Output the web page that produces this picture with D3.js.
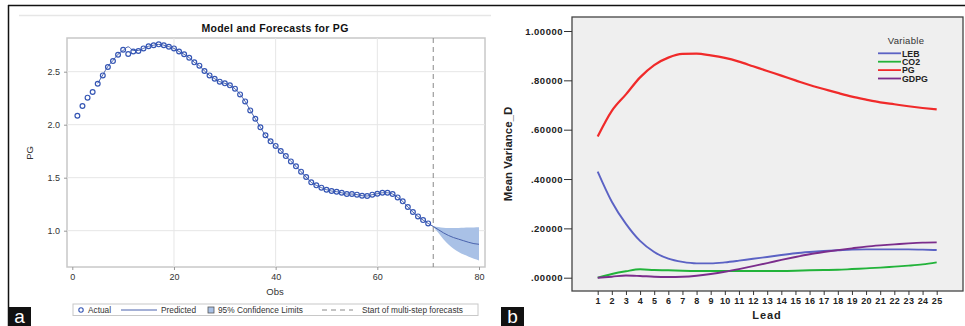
<!DOCTYPE html>
<html>
<head>
<meta charset="utf-8">
<script src="https://cdn.jsdelivr.net/npm/d3@7"></script>
<style>
  body { margin: 0; background: #fff; }
  svg { display: block; font-family: "Liberation Sans", Arial, sans-serif; }
</style>
</head>
<body>
<svg id="chart" width="965" height="326"></svg>
<script>
// panel a: PG actual + predicted + forecast
const obsActual = d3.range(1, 71);
const pgActual = [2.085, 2.176, 2.255, 2.308, 2.387, 2.465, 2.544, 2.60, 2.66, 2.707,
  2.667, 2.69, 2.695, 2.72, 2.74, 2.75, 2.758, 2.75, 2.736, 2.72,
  2.69, 2.664, 2.632, 2.588, 2.557, 2.506, 2.465, 2.434, 2.406, 2.39,
  2.371, 2.34, 2.286, 2.22, 2.135, 2.056, 1.975, 1.90, 1.843, 1.80,
  1.752, 1.704, 1.654, 1.607, 1.557, 1.506, 1.456, 1.428, 1.406, 1.387,
  1.374, 1.368, 1.358, 1.346, 1.346, 1.34, 1.33, 1.327, 1.34, 1.349,
  1.358, 1.358, 1.346, 1.314, 1.277, 1.223, 1.176, 1.135, 1.10, 1.069];
const obsPred = d3.range(5, 81);
const pgPred = [2.39, 2.47, 2.55, 2.605, 2.665, 2.70,
  2.735, 2.70, 2.70, 2.72, 2.74, 2.75, 2.758, 2.75, 2.736, 2.72,
  2.69, 2.664, 2.632, 2.588, 2.557, 2.506, 2.465, 2.434, 2.406, 2.39,
  2.371, 2.34, 2.286, 2.22, 2.135, 2.056, 1.975, 1.90, 1.843, 1.80,
  1.752, 1.704, 1.654, 1.607, 1.557, 1.506, 1.456, 1.428, 1.406, 1.387,
  1.374, 1.368, 1.358, 1.346, 1.346, 1.34, 1.33, 1.327, 1.34, 1.349,
  1.358, 1.358, 1.346, 1.314, 1.277, 1.223, 1.176, 1.135, 1.10, 1.069,
  1.04, 1.01, 0.98, 0.955, 0.935, 0.92, 0.905, 0.89, 0.878, 0.872];
const obsFc = d3.range(70, 81);
const ciUpper = [1.069, 1.045, 1.035, 1.028, 1.025, 1.025, 1.026, 1.028, 1.03, 1.031, 1.032];
const ciLower = [1.069, 1.035, 0.98, 0.92, 0.87, 0.83, 0.80, 0.775, 0.755, 0.735, 0.72];
const forecastStart = 71;
const xTicksA = [0, 20, 40, 60, 80];
const yTicksA = [1.0, 1.5, 2.0, 2.5];

// panel b: mean variance decomposition
const leads = d3.range(1, 26);
const seriesB = [
  { name: "LEB", color: "#5b62c4", values: [0.430, 0.308, 0.218, 0.149, 0.104, 0.077, 0.064, 0.058, 0.058, 0.062,
    0.069, 0.077, 0.084, 0.092, 0.099, 0.104, 0.108, 0.111, 0.114, 0.115, 0.115, 0.115, 0.115, 0.114, 0.112] },
  { name: "CO2", color: "#22b33a", values: [0.0, 0.015, 0.026, 0.034, 0.031, 0.030, 0.028, 0.027, 0.027, 0.027,
    0.027, 0.027, 0.027, 0.027, 0.028, 0.030, 0.031, 0.032, 0.035, 0.038, 0.041, 0.045, 0.049, 0.054, 0.062] },
  { name: "PG", color: "#f02a2a", values: [0.572, 0.676, 0.743, 0.812, 0.862, 0.892, 0.907, 0.908, 0.901, 0.891,
    0.876, 0.857, 0.838, 0.819, 0.800, 0.781, 0.765, 0.749, 0.734, 0.722, 0.711, 0.703, 0.695, 0.688, 0.682] },
  { name: "GDPG", color: "#7b2d8c", values: [0.0, 0.004, 0.009, 0.007, 0.004, 0.003, 0.004, 0.008, 0.015, 0.024,
    0.035, 0.047, 0.059, 0.072, 0.084, 0.095, 0.104, 0.112, 0.119, 0.126, 0.131, 0.135, 0.139, 0.142, 0.143] }
];
const yTicksB = [0, 0.2, 0.4, 0.6, 0.8, 1.0];

const svg = d3.select("#chart");

// outer frame lines
svg.append("line").attr("x1", 8).attr("x2", 965).attr("y1", 5.5).attr("y2", 5.5)
  .attr("stroke", "#111").attr("stroke-width", 1.5);
svg.append("line").attr("x1", 8.5).attr("x2", 8.5).attr("y1", 5).attr("y2", 326)
  .attr("stroke", "#111").attr("stroke-width", 1.5);
svg.append("line").attr("x1", 19).attr("x2", 491).attr("y1", 15.5).attr("y2", 15.5)
  .attr("stroke", "#e6e6e6").attr("stroke-width", 1.5);

// ---------- panel a ----------
const A = { left: 67, right: 485, top: 38, bottom: 267 };
const xa = d3.scaleLinear().domain([0, 80]).range([72.3, 479]);
const ya = d3.scaleLinear().domain([1.0, 2.5]).range([230.7, 71.7]);

const ga = svg.append("g");
ga.append("rect").attr("x", A.left).attr("y", A.top)
  .attr("width", A.right - A.left).attr("height", A.bottom - A.top)
  .attr("fill", "#fff").attr("stroke", "#c8c8c8").attr("stroke-width", 1.5);

ga.selectAll(".gx").data(xTicksA.slice(1, 4)).join("line")
  .attr("x1", d => xa(d)).attr("x2", d => xa(d)).attr("y1", A.top).attr("y2", A.bottom)
  .attr("stroke", "#e6e6e6");
ga.selectAll(".gy").data(yTicksA).join("line")
  .attr("x1", A.left).attr("x2", A.right).attr("y1", d => ya(d)).attr("y2", d => ya(d))
  .attr("stroke", "#e6e6e6");

// axes
const xAxisA = ga.append("g").attr("transform", `translate(0,${A.bottom})`)
  .call(d3.axisBottom(xa).tickValues(xTicksA).tickSize(3).tickPadding(4));
const yAxisA = ga.append("g").attr("transform", `translate(${A.left},0)`)
  .call(d3.axisLeft(ya).tickValues(yTicksA).tickFormat(d3.format(".1f")).tickSize(3).tickPadding(4));
[xAxisA, yAxisA].forEach(ax => {
  ax.select(".domain").remove();
  ax.selectAll(".tick line").attr("stroke", "#999");
  ax.selectAll("text").attr("fill", "#333").style("font-size", "9px");
});

// confidence band
const fcData = obsFc.map((o, i) => ({ o, lo: ciLower[i], hi: ciUpper[i] }));
ga.append("path").datum(fcData)
  .attr("d", d3.area().x(d => xa(d.o)).y0(d => ya(d.lo)).y1(d => ya(d.hi)).curve(d3.curveMonotoneX))
  .attr("fill", "#a9c1e6").attr("stroke", "none");

// forecast start
ga.append("line").attr("x1", xa(forecastStart)).attr("x2", xa(forecastStart))
  .attr("y1", A.top).attr("y2", A.bottom)
  .attr("stroke", "#888").attr("stroke-width", 1).attr("stroke-dasharray", "5,4");

// predicted line
ga.append("path").datum(obsPred.map((o, i) => [o, pgPred[i]]))
  .attr("d", d3.line().x(d => xa(d[0])).y(d => ya(d[1])).curve(d3.curveMonotoneX))
  .attr("fill", "none").attr("stroke", "#4a63ad").attr("stroke-width", 1);

// actual points
ga.selectAll(".pt").data(obsActual.map((o, i) => [o, pgActual[i]])).join("circle")
  .attr("cx", d => xa(d[0])).attr("cy", d => ya(d[1])).attr("r", 2.4)
  .attr("fill", "none").attr("stroke", "#3556b4").attr("stroke-width", 1.2);

ga.append("text").attr("x", 275).attr("y", 32).attr("text-anchor", "middle")
  .style("font-size", "10.5px").style("font-weight", "bold").style("letter-spacing", "0.3px")
  .attr("fill", "#111").text("Model and Forecasts for PG");
ga.append("text").attr("x", 275).attr("y", 295).attr("text-anchor", "middle")
  .style("font-size", "9.5px").attr("fill", "#333").text("Obs");
ga.append("text").attr("transform", "translate(33,153) rotate(-90)").attr("text-anchor", "middle")
  .style("font-size", "9.5px").attr("fill", "#333").text("PG");

// legend a
const lg = ga.append("g");
lg.append("rect").attr("x", 73).attr("y", 304).attr("width", 405).attr("height", 11.5)
  .attr("fill", "#fff").attr("stroke", "#c8c8c8");
lg.append("circle").attr("cx", 81).attr("cy", 310).attr("r", 2.2)
  .attr("fill", "none").attr("stroke", "#3556b4").attr("stroke-width", 1.1);
lg.append("line").attr("x1", 121).attr("x2", 157).attr("y1", 310).attr("y2", 310)
  .attr("stroke", "#4a63ad");
lg.append("rect").attr("x", 208).attr("y", 307).attr("width", 6).attr("height", 6)
  .attr("fill", "#a9c1e6").attr("stroke", "#555").attr("stroke-width", 0.8);
lg.append("line").attr("x1", 322).attr("x2", 353).attr("y1", 310).attr("y2", 310)
  .attr("stroke", "#888").attr("stroke-dasharray", "5,4");
const legA = [["Actual", 88], ["Predicted", 161], ["95% Confidence Limits", 218], ["Start of multi-step forecasts", 362]];
lg.selectAll(".lt").data(legA).join("text")
  .attr("x", d => d[1]).attr("y", 313.3).style("font-size", "8.3px").attr("fill", "#333")
  .text(d => d[0]);

// panel label a
svg.append("rect").attr("x", 8).attr("y", 307).attr("width", 23).attr("height", 19).attr("fill", "#111");
svg.append("text").attr("x", 19.5).attr("y", 323).attr("text-anchor", "middle")
  .style("font-size", "19px").attr("fill", "#fff").text("a");

// ---------- panel b ----------
const B = { left: 572, right: 963, top: 17, bottom: 291 };
const xb = d3.scalePoint().domain(leads).range([597.7, 936.7]);
const yb = d3.scaleLinear().domain([0, 1]).range([277.7, 31]);

const gb = svg.append("g");
gb.append("rect").attr("x", B.left).attr("y", B.top)
  .attr("width", B.right - B.left).attr("height", B.bottom - B.top)
  .attr("fill", "#efefef").attr("stroke", "#444").attr("stroke-width", 1.3);

const yAxisB = gb.append("g").attr("transform", `translate(${B.left},0)`)
  .call(d3.axisLeft(yb).tickValues(yTicksB).tickSize(8).tickPadding(1)
    .tickFormat(d => d3.format(".5f")(d).replace(/^0/, "")));
const xAxisB = gb.append("g").attr("transform", `translate(0,${B.bottom})`)
  .call(d3.axisBottom(xb).tickSize(4).tickPadding(2));
[xAxisB, yAxisB].forEach(ax => {
  ax.select(".domain").remove();
  ax.selectAll(".tick line").attr("stroke", "#333").attr("stroke-width", 1);
  ax.selectAll("text").attr("fill", "#222").style("font-weight", "bold");
});
yAxisB.selectAll("text").style("font-size", "9.5px").style("letter-spacing", "0.5px");
xAxisB.selectAll("text").attr("dy", "0.75em").style("font-size", "9px").style("letter-spacing", "0.4px");

const lineB = d3.line().x((d, i) => xb(leads[i])).y(d => yb(d)).curve(d3.curveMonotoneX);
gb.selectAll(".sb").data(seriesB).join("path")
  .attr("d", d => lineB(d.values))
  .attr("fill", "none").attr("stroke", d => d.color)
  .attr("stroke-width", d => d.name === "PG" ? 2.2 : 1.9);

gb.append("text").attr("x", 767).attr("y", 319).attr("text-anchor", "middle")
  .style("font-size", "11px").style("font-weight", "bold").style("letter-spacing", "1px")
  .attr("fill", "#222").text("Lead");
gb.append("text").attr("transform", "translate(512,154) rotate(-90)").attr("text-anchor", "middle")
  .style("font-family", "'Liberation Sans Narrow', 'Liberation Sans', sans-serif")
  .style("font-size", "11.5px").style("font-weight", "bold").attr("fill", "#222")
  .text("Mean Variance_D");

// legend b
gb.append("text").attr("x", 906).attr("y", 44).attr("text-anchor", "middle")
  .style("font-size", "9.5px").style("letter-spacing", "0.3px").attr("fill", "#333").text("Variable");
const lgB = gb.selectAll(".lb").data(seriesB).join("g")
  .attr("transform", (d, i) => `translate(0,${53.3 + i * 8.4})`);
lgB.append("line").attr("x1", 878).attr("x2", 901).attr("stroke", d => d.color).attr("stroke-width", 1.8);
lgB.append("text").attr("x", 902).attr("y", 3.3).style("font-size", "8.8px").attr("fill", "#222")
  .style("font-weight", "bold").text(d => d.name);

// panel label b
svg.append("rect").attr("x", 501).attr("y", 307).attr("width", 23).attr("height", 19).attr("fill", "#111");
svg.append("text").attr("x", 512.5).attr("y", 323).attr("text-anchor", "middle")
  .style("font-size", "19px").attr("fill", "#fff").text("b");
</script>
</body>
</html>
